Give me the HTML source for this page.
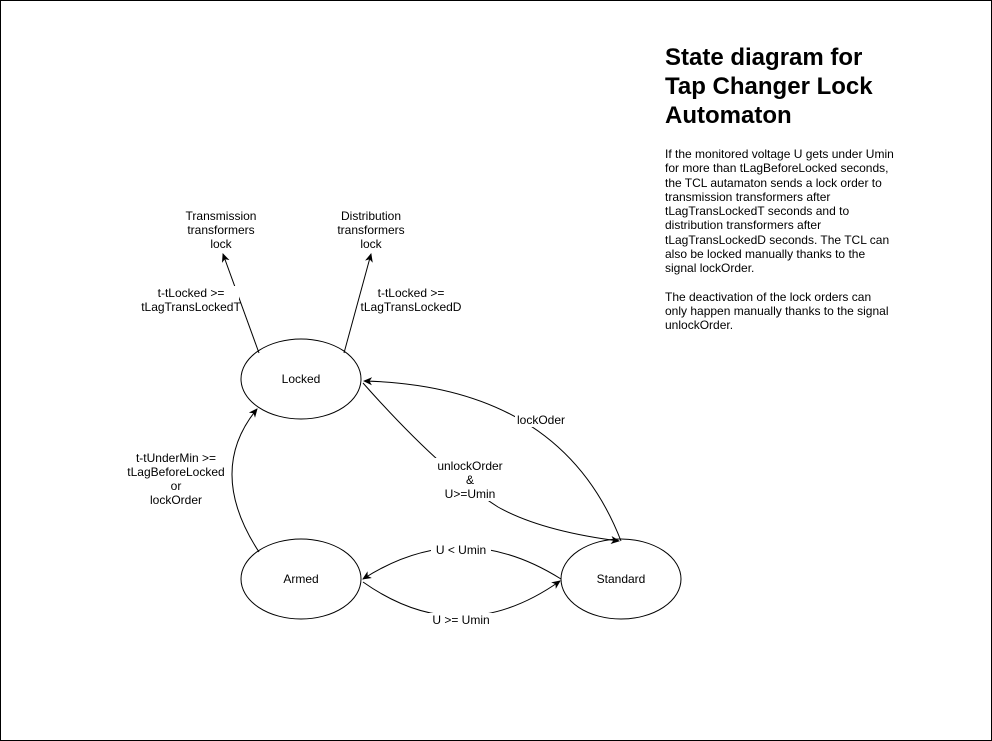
<!DOCTYPE html>
<html><head><style>
body{margin:0;background:#fff;}
.wrap{position:relative;width:990px;height:739px;border:1px solid #000;overflow:hidden;font-family:"Liberation Sans",sans-serif;}
svg{position:absolute;left:0;top:0;}
.t{position:absolute;left:664px;top:42px;font-size:24px;font-weight:bold;line-height:29px;color:#000;}
.b{position:absolute;left:664px;top:146px;width:232px;font-size:12px;line-height:14.3px;color:#000;}
.b p{margin:0 0 14px 0;}
</style></head><body><div class="wrap">
<svg width="992" height="741" font-family="Liberation Sans, sans-serif" font-size="12">
<defs><marker id="a" markerWidth="10" markerHeight="10" refX="8" refY="5" orient="auto" markerUnits="userSpaceOnUse"><path d="M0,1 L9,5 L0,9 L2.5,5 Z" fill="#000"/></marker></defs>
<g fill="#fff" stroke="#000" stroke-width="1">
<ellipse cx="300" cy="378" rx="60" ry="40"/>
<ellipse cx="300" cy="578" rx="60" ry="40"/>
<ellipse cx="620" cy="578" rx="60" ry="40"/>
</g>
<g fill="none" stroke="#000" stroke-width="1" marker-end="url(#a)">
<path d="M258,352 L222,253"/>
<path d="M343,352 L370,253"/>
<path d="M258,551 Q205,470 256,408"/>
<path d="M620,540 Q560,385 363,380"/>
<path d="M362,382 Q440,470 497,506 Q540,530 618,540"/>
<path d="M560,578 Q460,515 362,578"/>
<path d="M362,581 Q460,650 559,580"/>
</g>
<g fill="#fff">
<rect x="140" y="285" width="98" height="28"/>
<rect x="362" y="285" width="98" height="28"/>
<rect x="122" y="452" width="104" height="56"/>
<rect x="514" y="411" width="52" height="15"/>
<rect x="432" y="457" width="74" height="43"/>
<rect x="430" y="542" width="60" height="14"/>
<rect x="426" y="612" width="68" height="14"/>
</g>
<g text-anchor="middle" fill="#000">
<text x="220" y="219">Transmission</text><text x="220" y="233">transformers</text><text x="220" y="247">lock</text>
<text x="370" y="219">Distribution</text><text x="370" y="233">transformers</text><text x="370" y="247">lock</text>
<text x="190" y="296">t-tLocked &gt;=</text><text x="190" y="310">tLagTransLockedT</text>
<text x="410" y="296">t-tLocked &gt;=</text><text x="410" y="310">tLagTransLockedD</text>
<text x="175" y="461">t-tUnderMin &gt;=</text><text x="175" y="475">tLagBeforeLocked</text><text x="175" y="489">or</text><text x="175" y="503">lockOrder</text>
<text x="540" y="423">lockOder</text>
<text x="469" y="469">unlockOrder</text><text x="469" y="483">&amp;</text><text x="469" y="497">U&gt;=Umin</text>
<text x="460" y="553">U &lt; Umin</text>
<text x="460" y="623">U &gt;= Umin</text>
<text x="300" y="382">Locked</text>
<text x="300" y="582">Armed</text>
<text x="620" y="582">Standard</text>
</g>
</svg>
<div class="t">State diagram for<br>Tap Changer Lock<br>Automaton</div>
<div class="b"><p>If the monitored voltage U gets under Umin for more than tLagBeforeLocked seconds, the TCL autamaton sends a lock order to transmission transformers after tLagTransLockedT seconds and to distribution transformers after tLagTransLockedD seconds. The TCL can also be locked manually thanks to the signal lockOrder.</p><p>The deactivation of the lock orders can<br>only happen manually thanks to the signal unlockOrder.</p></div>
</div></body></html>
